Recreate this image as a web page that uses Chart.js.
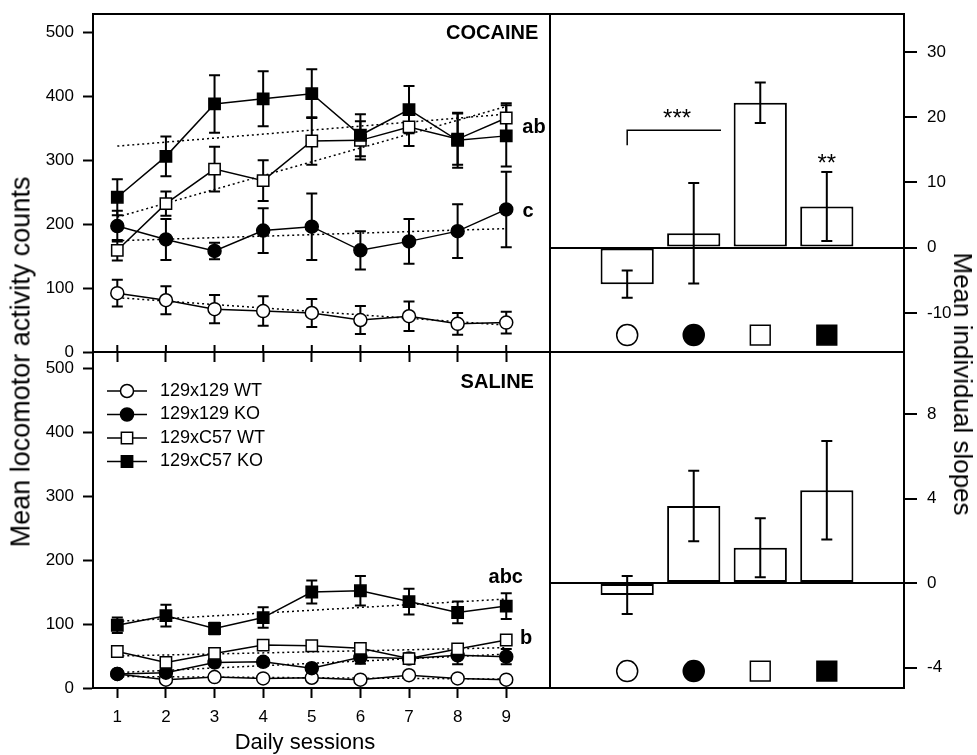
<!DOCTYPE html>
<html>
<head>
<meta charset="utf-8">
<script src="https://cdn.jsdelivr.net/npm/chart.js@4.4.1/dist/chart.umd.min.js"></script>
<style>
  body { margin: 0; background: #fff; font-family: "Liberation Sans", Arial, sans-serif; }
  #wrap { position: relative; width: 977px; height: 755px; }
  canvas { position: absolute; }
  .axisTitle { position: absolute; white-space: nowrap; color: #000; line-height: 1; }
</style>
</head>
<body>
<div id="wrap">
  <canvas id="cocLines" width="560" height="370" style="left:0;top:0;width:560px;height:370px"></canvas>
  <canvas id="salLines" width="560" height="415" style="left:0;top:340px;width:560px;height:415px"></canvas>
  <canvas id="cocSlopes" width="437" height="370" style="left:540px;top:0;width:437px;height:370px"></canvas>
  <canvas id="salSlopes" width="437" height="415" style="left:540px;top:340px;width:437px;height:415px"></canvas>
  <div class="axisTitle" style="left:21px;top:362px;font-size:27px;transform:translate(-50%,-50%) rotate(-90deg)">Mean locomotor activity counts</div>
  <div class="axisTitle" style="left:963px;top:384px;font-size:26px;transform:translate(-50%,-50%) rotate(90deg)">Mean individual slopes</div>
  <div class="axisTitle" style="left:305px;top:742px;font-size:22px;transform:translate(-50%,-50%)">Daily sessions</div>
</div>
<script>
// ---- data ----
const groups = ['129x129 WT', '129x129 KO', '129xC57 WT', '129xC57 KO'];
const sessions = [1, 2, 3, 4, 5, 6, 7, 8, 9];
const countTicks = [0, 100, 200, 300, 400, 500];

// cocaine, mean counts per session and SEM
const coc129WT = [92, 81, 67, 64, 61, 50, 56, 44, 46];
const coc129WTErr = [21, 22, 22, 23, 22, 22, 23, 17, 17];
const coc129KO = [197, 176, 158, 190, 196, 159, 173, 189, 223];
const coc129KOErr = [24, 32, 13, 35, 52, 30, 35, 42, 59];
const cocC57WT = [159, 232, 286, 268, 330, 331, 352, 333, 366];
const cocC57WTErr = [16, 19, 35, 32, 37, 30, 30, 40, 23];
const cocC57KO = [242, 306, 388, 396, 404, 339, 379, 331, 338];
const cocC57KOErr = [28, 31, 45, 43, 38, 33, 37, 43, 48];
// regression lines, value at session 1 and at session 9
const cocTrendStart = [85, 174, 211, 322];
const cocTrendEnd = [42, 193, 384, 372];

// saline
const sal129WT = [22, 13, 17, 15, 16, 13, 20, 15, 13];
const sal129WTErr = [4, 4, 4, 4, 4, 4, 4, 4, 4];
const sal129KO = [22, 24, 40, 41, 31, 48, 46, 51, 49];
const sal129KOErr = [4, 5, 6, 6, 6, 10, 8, 14, 12];
const salC57WT = [57, 40, 54, 67, 66, 62, 46, 61, 75];
const salC57WTErr = [4, 5, 5, 5, 5, 5, 8, 6, 6];
const salC57KO = [98, 113, 93, 110, 150, 152, 135, 118, 128];
const salC57KOErr = [12, 17, 9, 16, 18, 23, 20, 17, 20];
const salTrendStart = [18, 24, 50, 104];
const salTrendEnd = [14, 53, 63, 139];

// mean individual slopes
const cocSlopes = [-5.6, 2.2, 22.2, 6.3];
const cocSlopesErr = [2.1, 7.7, 3.1, 5.3];
const salSlopes = [-0.57, 3.65, 1.67, 4.39];
const salSlopesErr = [0.9, 1.67, 1.4, 2.33];
const cocSlopeTicks = [-10, 0, 10, 20, 30];
const salSlopeTicks = [-4, 0, 4, 8];

// ---- look ----
const FONT = '"Liberation Sans", Arial, sans-serif';
Chart.defaults.font.family = FONT;
Chart.defaults.font.size = 17;
Chart.defaults.color = '#000';
Chart.defaults.animation = false;

const markers = [
  { style: 'circle', radius: 6.5, fill: '#fff' },
  { style: 'circle', radius: 6.5, fill: '#000' },
  { style: 'rect', radius: 8, fill: '#fff' },
  { style: 'rect', radius: 8, fill: '#000' }
];

function drawMarker(ctx, i, x, y) {
  const m = markers[i];
  ctx.beginPath();
  if (m.style === 'circle') {
    ctx.arc(x, y, m.radius, 0, Math.PI * 2);
  } else {
    const h = m.radius * Math.SQRT1_2;
    ctx.rect(x - h, y - h, 2 * h, 2 * h);
  }
  ctx.fillStyle = m.fill;
  ctx.fill();
  ctx.lineWidth = 1.5;
  ctx.strokeStyle = '#000';
  ctx.stroke();
}

// ---- plugins ----
function drawErrors(chart) {
  const ctx = chart.ctx, xs = chart.scales.x, ys = chart.scales.y;
  ctx.save();
  ctx.strokeStyle = '#000';
  ctx.lineWidth = 2;
  chart.data.datasets.forEach(ds => {
    if (!ds.errors) return;
    ds.data.forEach((p, i) => {
      const x = xs.getPixelForValue(p.x);
      const y1 = ys.getPixelForValue(p.y + ds.errors[i]);
      const y2 = ys.getPixelForValue(p.y - ds.errors[i]);
      ctx.beginPath();
      ctx.moveTo(x, y1); ctx.lineTo(x, y2);
      ctx.moveTo(x - 5.5, y1); ctx.lineTo(x + 5.5, y1);
      ctx.moveTo(x - 5.5, y2); ctx.lineTo(x + 5.5, y2);
      ctx.stroke();
    });
  });
  ctx.restore();
}

const errorsBelow = { id: 'errorsBelow', beforeDatasetsDraw: drawErrors };
const errorsAbove = { id: 'errorsAbove', afterDatasetsDraw: drawErrors };

function framePlugin(innerTicks) {
  return {
    id: 'frame',
    afterDraw(chart) {
      const a = chart.chartArea, ctx = chart.ctx;
      ctx.save();
      ctx.strokeStyle = '#000';
      ctx.lineWidth = 2;
      ctx.strokeRect(a.left, a.top, a.right - a.left, a.bottom - a.top);
      if (innerTicks) {
        ctx.beginPath();
        sessions.forEach(s => {
          const x = chart.scales.x.getPixelForValue(s);
          ctx.moveTo(x, a.bottom);
          ctx.lineTo(x, a.bottom - 7);
        });
        ctx.stroke();
      }
      ctx.restore();
    }
  };
}

function notesPlugin(items, bracket) {
  return {
    id: 'notes',
    afterDraw(chart) {
      const ctx = chart.ctx, xs = chart.scales.x, ys = chart.scales.y;
      ctx.save();
      ctx.fillStyle = '#000';
      ctx.textBaseline = 'middle';
      items.forEach(n => {
        ctx.font = n.font;
        ctx.textAlign = n.align || 'center';
        ctx.fillText(n.text, xs.getPixelForValue(n.x), ys.getPixelForValue(n.y));
      });
      if (bracket) {
        ctx.strokeStyle = '#000';
        ctx.lineWidth = 1.5;
        ctx.beginPath();
        bracket.forEach((p, i) => {
          const px = xs.getPixelForValue(p[0]), py = ys.getPixelForValue(p[1]);
          if (i === 0) ctx.moveTo(px, py); else ctx.lineTo(px, py);
        });
        ctx.stroke();
      }
      ctx.restore();
    }
  };
}

const seriesLegend = {
  id: 'seriesLegend',
  afterDraw(chart) {
    const ctx = chart.ctx, a = chart.chartArea;
    ctx.save();
    groups.forEach((name, i) => {
      const xm = a.left + 34, y = a.top + 39 + i * 23.5;
      ctx.strokeStyle = '#000';
      ctx.lineWidth = 1.5;
      ctx.beginPath();
      ctx.moveTo(xm - 20, y); ctx.lineTo(xm + 20, y);
      ctx.stroke();
      drawMarker(ctx, i, xm, y);
      ctx.fillStyle = '#000';
      ctx.font = '18px ' + FONT;
      ctx.textAlign = 'left';
      ctx.textBaseline = 'middle';
      ctx.fillText(name, xm + 33, y);
    });
    ctx.restore();
  }
};

// ---- builders ----
function lineChart(id, series, errs, trendStart, trendEnd, yMax, xHeight, padTop, showLabels, plugins) {
  const datasets = series.map((vals, i) => ({
    label: groups[i],
    data: vals.map((v, j) => ({ x: sessions[j], y: v })),
    errors: errs[i],
    borderColor: '#000',
    borderWidth: 1.5,
    pointStyle: markers[i].style,
    pointRadius: markers[i].radius,
    pointBackgroundColor: markers[i].fill,
    pointBorderColor: '#000',
    pointBorderWidth: 1.5,
    order: 3 - i
  }));
  trendStart.forEach((v, i) => {
    datasets.push({
      label: groups[i] + ' trend',
      data: [{ x: sessions[0], y: v }, { x: sessions[sessions.length - 1], y: trendEnd[i] }],
      borderColor: '#000',
      borderWidth: 1.5,
      borderDash: [2, 3],
      pointRadius: 0,
      order: 10
    });
  });

  return new Chart(document.getElementById(id), {
    type: 'line',
    data: { datasets: datasets },
    options: {
      responsive: false,
      events: [],
      layout: { autoPadding: false, padding: { top: padTop, right: 10, bottom: 0, left: 0 } },
      plugins: { legend: { display: false }, tooltip: { enabled: false } },
      scales: {
        x: {
          type: 'linear', min: 0.5, max: 9.9, offset: false,
          afterBuildTicks: s => { s.ticks = sessions.map(v => ({ value: v })); },
          afterFit: s => { s.height = xHeight; s.paddingLeft = 0; s.paddingRight = 0; },
          grid: { drawOnChartArea: false, tickLength: 10, tickWidth: 2, tickColor: '#000' },
          border: { color: '#000', width: 2 },
          ticks: { display: showLabels, padding: 9, maxRotation: 0, font: { size: 17 } }
        },
        y: {
          min: 0, max: yMax,
          afterBuildTicks: s => { s.ticks = countTicks.map(v => ({ value: v })); },
          afterFit: s => { s.width = 93; s.paddingTop = 0; s.paddingBottom = 0; },
          grid: { drawOnChartArea: false, tickLength: 10, tickWidth: 2, tickColor: '#000' },
          border: { color: '#000', width: 2 },
          ticks: { padding: 9, font: { size: 17 } }
        }
      }
    },
    plugins: [errorsBelow].concat(plugins)
  });
}

function slopeChart(id, slopes, errs, yMin, yMax, ticks, markerRow, padTop, padBottom, plugins) {
  return new Chart(document.getElementById(id), {
    type: 'bar',
    data: {
      datasets: [
        {
          label: 'slopes',
          data: slopes.map((v, i) => ({ x: i + 1, y: v })),
          errors: errs,
          backgroundColor: '#fff',
          borderColor: '#000',
          borderWidth: 2,
          borderSkipped: false,
          barPercentage: 0.8,
          categoryPercentage: 1
        },
        {
          type: 'line',
          label: 'groups',
          data: groups.map((g, i) => ({ x: i + 1, y: markerRow })),
          showLine: false,
          pointStyle: markers.map(m => m.style),
          pointRadius: markers.map(m => m.style === 'circle' ? 10.5 : 14),
          pointBackgroundColor: markers.map(m => m.fill),
          pointBorderColor: '#000',
          pointBorderWidth: 1.5
        }
      ]
    },
    options: {
      responsive: false,
      events: [],
      layout: { autoPadding: false, padding: { top: padTop, right: 0, bottom: padBottom, left: 10 } },
      plugins: { legend: { display: false }, tooltip: { enabled: false } },
      scales: {
        x: {
          type: 'linear', min: -0.16, max: 5.16, offset: false, display: false,
          ticks: { display: false },
          afterFit: s => { s.height = 0; s.paddingLeft = 0; s.paddingRight = 0; }
        },
        y: {
          position: 'right', min: yMin, max: yMax,
          afterBuildTicks: s => { s.ticks = ticks.map(v => ({ value: v })); },
          afterFit: s => { s.width = 73; s.paddingTop = 0; s.paddingBottom = 0; },
          grid: {
            color: c => (c.tick && c.tick.value === 0) ? '#000' : 'rgba(0,0,0,0)',
            lineWidth: 2, tickLength: 13, tickWidth: 2, tickColor: '#000'
          },
          border: { color: '#000', width: 2 },
          ticks: { padding: 10, font: { size: 17 } }
        }
      }
    },
    plugins: [errorsAbove].concat(plugins)
  });
}

// ---- draw ----
const bold = 'bold 20px ' + FONT;

lineChart('cocLines',
  [coc129WT, coc129KO, cocC57WT, cocC57KO],
  [coc129WTErr, coc129KOErr, cocC57WTErr, cocC57KOErr],
  cocTrendStart, cocTrendEnd, 528.6, 18, 14, false,
  [framePlugin(true), notesPlugin([
    { text: 'COCAINE', x: 9.66, y: 498, font: bold, align: 'right' },
    { text: 'ab', x: 9.57, y: 351, font: bold },
    { text: 'c', x: 9.45, y: 220, font: bold }
  ])]);

lineChart('salLines',
  [sal129WT, sal129KO, salC57WT, salC57KO],
  [sal129WTErr, sal129KOErr, salC57WTErr, salC57KOErr],
  salTrendStart, salTrendEnd, 525, 67, 12, true,
  [framePlugin(false), seriesLegend, notesPlugin([
    { text: 'SALINE', x: 9.57, y: 477, font: bold, align: 'right' },
    { text: 'abc', x: 8.99, y: 172, font: bold },
    { text: 'b', x: 9.41, y: 77, font: bold }
  ])]);

slopeChart('cocSlopes', cocSlopes, cocSlopesErr, -16, 35.8, cocSlopeTicks, -13.4, 14, 18,
  [framePlugin(false), notesPlugin([
    { text: '***', x: 1.75, y: 19.6, font: '24px ' + FONT },
    { text: '**', x: 4.0, y: 12.7, font: '24px ' + FONT }
  ], [[1, 15.7], [1, 18], [2.41, 18]])]);

slopeChart('salSlopes', salSlopes, salSlopesErr, -4.97, 10.94, salSlopeTicks, -4.17, 12, 67,
  [framePlugin(false)]);
</script>
</body>
</html>
